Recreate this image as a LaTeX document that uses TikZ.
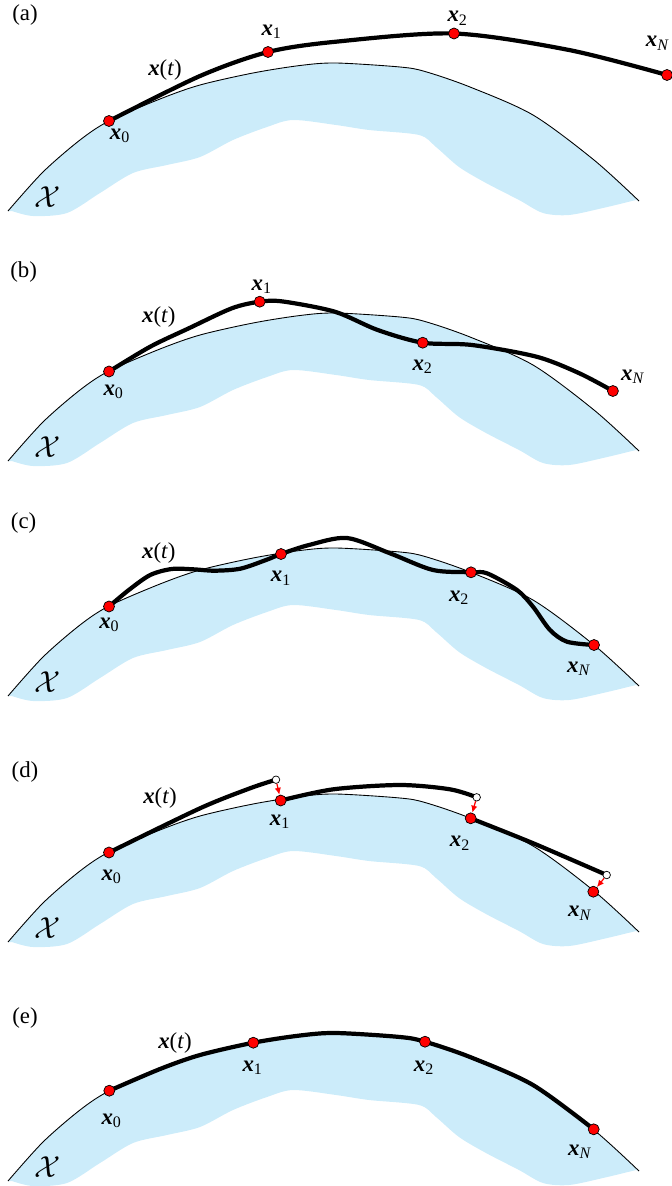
\documentclass[tikz,border=0pt]{standalone}
\usepackage{fontspec}
\setmainfont{Liberation Serif}
\usepackage{amsmath}
\usepackage{xcolor}
\usetikzlibrary{arrows.meta}
\definecolor{feasblue}{RGB}{204,236,250}
\newcommand{\bx}{\textbf{\textit{x}}}
\newcommand{\arcpath}{plot[smooth] coordinates {(8,211) (43,172) (80,140) (109,121) (160,99) (200,85) (253,73) (300,65.5) (336,63) (400,67) (425,71.5) (470,87) (533,115) (594,160) (639,201)}}
\newcommand{\feasregion}[1]{%
  \fill[feasblue] \arcpath -- plot[smooth] coordinates {(636,200) (603,208) (569,215) (543,213) (519,200) (486,183) (459,167) (436,147) (419,135) (369,130) (336,125) (293,120) (267,127) (233,140) (200,157) (167,165) (133,173) (100,193) (67,213) (33,216) (12,211)} -- cycle;
  \draw[line width=0.5pt] \arcpath;
  \node[lbl,font=\fontsize{16}{18}\selectfont] (#1X) at (48,197) {$\mathcal{X}$};}

\begin{document}
\begin{tikzpicture}[x=0.02cm,y=-0.02cm,>=Latex,
    lbl/.style={font=\fontsize{13}{15}\selectfont,inner sep=0pt},
    dot/.style={circle,draw=black,line width=0.4pt,fill=red,minimum size=0.22cm,inner sep=0pt},
    hollow/.style={circle,draw=black,line width=0.4pt,fill=white,minimum size=0.15cm,inner sep=0pt},
    traj/.style={line width=2.4pt,line join=round},
    proj/.style={draw=red,line width=0.7pt,-{Latex[length=4pt,width=3.6pt]}}]
  \useasboundingbox (0,0) rectangle (672,1186);

  \feasregion{a}
  \coordinate (a0) at (109,121);
  \coordinate (a1) at (268,52);
  \coordinate (a2) at (454,33.5);
  \coordinate (aN) at (667,75);
  \draw[traj] plot[smooth] coordinates {(a0) (200,76) (a1) (336,41.7) (a2) (569,50) (aN)};
  \node[dot] (a0dot) at (a0) {};
  \node[dot] (a1dot) at (a1) {};
  \node[dot] (a2dot) at (a2) {};
  \node[dot] (aNdot) at (aN) {};
  \node[lbl] (atag) at (25,15) {(a)};
  \node[lbl] (axt) at (165,70) {\bx(\textit{t})};
  \node[lbl] (a0lab) at (120,136) {\bx\textsubscript{0}};
  \node[lbl] (a1lab) at (271.7,31.7) {\bx\textsubscript{1}};
  \node[lbl] (a2lab) at (457.7,18.3) {\bx\textsubscript{2}};
  \node[lbl] (aNlab) at (657.7,43.3) {\bx\textsubscript{\textit{N}}};

  \begin{scope}[shift={(0,250)}]
    \feasregion{b}
    \coordinate (b0) at (109,121.5);
    \coordinate (b1) at (259.7,51.7);
    \coordinate (b2) at (422.7,92.7);
    \coordinate (bN) at (612.9,141);
    \draw[traj] plot[smooth] coordinates {(b0) (150.2,96.7) (188.8,78.3) (231.8,58.3) (b1) (283,51.5) (334.8,61.7) (377.7,80) (b2) (472,95) (536.5,106.7) (579.4,123.3) (bN)};
    \node[dot] (b0dot) at (b0) {};
    \node[dot] (b1dot) at (b1) {};
    \node[dot] (b2dot) at (b2) {};
    \node[dot] (bNdot) at (bN) {};
    \node[lbl] (btag) at (23.6,21.7) {(b)};
    \node[lbl] (bxt) at (158.8,66.7) {\bx(\textit{t})};
    \node[lbl] (b0lab) at (113.7,141.7) {\bx\textsubscript{0}};
    \node[lbl] (b1lab) at (261.8,36.7) {\bx\textsubscript{1}};
    \node[lbl] (b2lab) at (422.7,116.7) {\bx\textsubscript{2}};
    \node[lbl] (bNlab) at (633,126.7) {\bx\textsubscript{\textit{N}}};
  \end{scope}

  \begin{scope}[shift={(0,485)}]
    \feasregion{c}
    \coordinate (c0) at (109,121.5);
    \coordinate (c1) at (281,69);
    \coordinate (c2) at (471,87.3);
    \coordinate (cN) at (594,160);
    \draw[traj] plot[smooth] coordinates {(c0) (128.8,105) (150.2,90) (171.7,84) (193,84.3) (214.6,85.7) (240.3,83.7) (266,75) (c1) (309,60) (347,53) (390,68.3) (433,85) (c2) (487,88.3) (517,105) (533,121.7) (550,145) (567,156.7) (cN)};
    \node[dot] (c0dot) at (c0) {};
    \node[dot] (c1dot) at (c1) {};
    \node[dot] (c2dot) at (c2) {};
    \node[dot] (cNdot) at (cN) {};
    \node[lbl] (ctag) at (23.6,38.3) {(c)};
    \node[lbl] (cxt) at (158.8,68.3) {\bx(\textit{t})};
    \node[lbl] (c0lab) at (109.4,140) {\bx\textsubscript{0}};
    \node[lbl] (c1lab) at (281.1,93.3) {\bx\textsubscript{1}};
    \node[lbl] (c2lab) at (459.2,112.5) {\bx\textsubscript{2}};
    \node[lbl] (cNlab) at (579,184) {\bx\textsubscript{\textit{N}}};
  \end{scope}

  \begin{scope}[shift={(0,731)}]
    \feasregion{d}
    \coordinate (d0) at (109,121.5);
    \coordinate (w1) at (276,48.7);
    \coordinate (d1) at (280.7,69.5);
    \coordinate (w2) at (476.7,66.3);
    \coordinate (d2) at (470.7,87.3);
    \coordinate (w3) at (606.7,144);
    \coordinate (dN) at (593.3,160.7);
    \draw[traj] plot[smooth] coordinates {(d0) (200,77.3) (250,57.3) (w1)};
    \draw[traj] plot[smooth] coordinates {(d1) (333.3,58.3) (400,54) (450,58.3) (w2)};
    \draw[traj] plot[smooth] coordinates {(d2) (533.3,112.3) (w3)};
    \node[dot] (d0dot) at (d0) {};
    \node[dot] (d1dot) at (d1) {};
    \node[dot] (d2dot) at (d2) {};
    \node[dot] (dNdot) at (dN) {};
    \node[hollow] (w1dot) at (w1) {};
    \node[hollow] (w2dot) at (w2) {};
    \node[hollow] (w3dot) at (w3) {};
    \draw[proj] (w1dot) -- (d1dot);
    \draw[proj] (w2dot) -- (d2dot);
    \draw[proj] (w3dot) -- (dNdot);
    \node[lbl] (dtag) at (25,40.7) {(d)};
    \node[lbl] (dxt) at (160,67.3) {\bx(\textit{t})};
    \node[lbl] (d0lab) at (111.7,145.7) {\bx\textsubscript{0}};
    \node[lbl] (d1lab) at (280,90.7) {\bx\textsubscript{1}};
    \node[lbl] (d2lab) at (460,112.3) {\bx\textsubscript{2}};
    \node[lbl] (dNlab) at (580,182.3) {\bx\textsubscript{\textit{N}}};
  \end{scope}

  \begin{scope}[shift={(0,970)}]
    \feasregion{e}
    \coordinate (e0) at (109.3,120.7);
    \coordinate (e1) at (253.3,72.7);
    \coordinate (e2) at (425,71.7);
    \coordinate (eN) at (593.7,159.3);
    \draw[traj] plot[smooth] coordinates {(e0) (160,99) (200,85) (e1) (300,65.5) (336,63) (400,67) (e2) (470,87) (533,115) (eN)};
    \node[dot] (e0dot) at (e0) {};
    \node[dot] (e1dot) at (e1) {};
    \node[dot] (e2dot) at (e2) {};
    \node[dot] (eNdot) at (eN) {};
    \node[lbl] (etag) at (25,48) {(e)};
    \node[lbl] (ext) at (175,73) {\bx(\textit{t})};
    \node[lbl] (e0lab) at (111.7,150.7) {\bx\textsubscript{0}};
    \node[lbl] (e1lab) at (252.7,98) {\bx\textsubscript{1}};
    \node[lbl] (e2lab) at (424,98) {\bx\textsubscript{2}};
    \node[lbl] (eNlab) at (580,181.7) {\bx\textsubscript{\textit{N}}};
  \end{scope}
\end{tikzpicture}
\end{document}
